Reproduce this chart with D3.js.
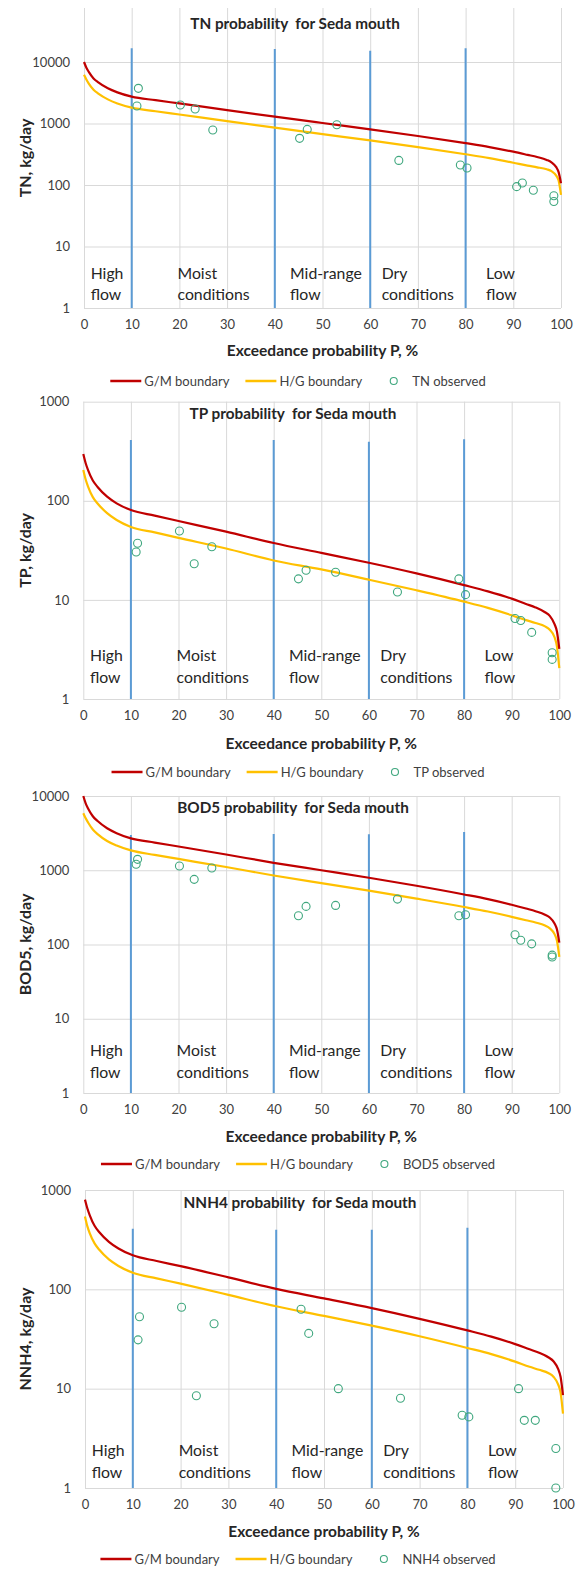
<!DOCTYPE html>
<html><head><meta charset="utf-8">
<script src="https://cdn.jsdelivr.net/npm/d3@7"></script>
<style>
body{margin:0;background:#fff}
svg{display:block}
text{font-family:Lato,"Open Sans",sans-serif}
</style>
</head><body>
<svg id="chart" width="582" height="1571"></svg>
<script>
// ---------- DATA ----------
const curveP = [0, 0.5, 1, 2, 3, 5, 7, 10, 15, 20, 30, 40, 50, 60, 70, 80, 85, 90, 93, 95, 97, 98, 99, 99.5, 100];

const tnGM  = [10000, 8090, 6900, 5410, 4656, 3733, 3206, 2729, 2395, 2118, 1652, 1294, 1019, 804, 627, 479, 414, 348, 309, 285, 256, 234, 195, 162, 107];
const tnHG  = [6200, 5200, 4450, 3540, 3060, 2466, 2118, 1815, 1582, 1399, 1091, 855, 673, 531, 414, 316, 273, 230, 206, 194, 180, 168, 142, 118, 69];
const tpGM  = [296, 239, 204, 160, 138, 110, 94.3, 80.7, 70.8, 62.5, 48.8, 37.5, 29.8, 23.7, 18.5, 14.1, 12.2, 10.3, 9.1, 8.4, 7.5, 6.9, 5.7, 4.8, 3.2];
const tpHG  = [205, 164, 139, 109, 94, 75, 64, 54.5, 48, 42.3, 33, 25, 20.3, 16, 12.5, 9.6, 8.3, 7.0, 6.25, 5.85, 5.4, 5.0, 4.2, 3.4, 2.05];
const bodGM = [10000, 7960, 6800, 5340, 4600, 3680, 3160, 2690, 2360, 2090, 1630, 1260, 1000, 793, 618, 472, 408, 343, 305, 281, 252, 231, 192, 160, 106];
const bodHG = [5850, 5000, 4400, 3540, 3070, 2480, 2150, 1850, 1610, 1420, 1105, 850, 670, 532, 415, 320, 278, 236, 212, 198, 180, 165, 138, 113, 68];
const nhGM  = [800, 651, 556, 436, 376, 301, 258, 220, 193, 171, 132, 101, 81, 64.7, 50.5, 38.6, 33.4, 28.1, 24.9, 23, 20.6, 18.9, 15.7, 13.1, 8.6];
const nhHG  = [540, 430, 365, 290, 250, 200, 172, 147, 129, 114, 88, 67.5, 54, 43.1, 33.7, 25.7, 22.3, 18.7, 16.6, 15.5, 14.3, 13.2, 11, 9.1, 5.6];

const obsP   = [11.4, 11.1, 20.2, 23.3, 27.0, 45.2, 46.8, 53.0, 66.0, 78.9, 80.3, 90.7, 91.9, 94.2, 98.5, 98.5];
const tnObs  = [3730, 1930, 2000, 1720, 784, 574, 802, 955, 251, 211, 189, 94, 108, 82, 67, 54];
const tpObs  = [37.3, 30.4, 49.6, 23.2, 34.4, 16.3, 19.9, 19.0, 12.0, 16.3, 11.3, 6.5, 6.2, 4.7, 2.93, 2.51];
const bodObs = [1403, 1202, 1140, 754, 1072, 244, 326, 336, 409, 244, 251, 135, 114, 102, 72, 68];
const nhObs  = [53, 31, 66, 8.5, 45, 63, 36, 10, 8, 5.4, 5.2, 10, 4.8, 4.8, 2.5, 1.0];

const zoneP = [10, 40, 60, 80];
const tnZoneTop  = [16700, 16200, 15300, 16700];
const tpZoneTop  = [410, 410, 395, 417];
const bodZoneTop = [2980, 3075, 3050, 3270];
const nhZoneTop  = [407, 398, 398, 417];

const xTicks = [0, 10, 20, 30, 40, 50, 60, 70, 80, 90, 100];
const yTicks4 = [1, 10, 100, 1000, 10000];
const yTicks3 = [1, 10, 100, 1000];

const zoneNames = [["High", "flow"], ["Moist", "conditions"], ["Mid-range", "flow"], ["Dry", "conditions"], ["Low", "flow"]];
const titles = ["TN probability  for Seda mouth", "TP probability  for Seda mouth", "BOD5 probability  for Seda mouth", "NNH4 probability  for Seda mouth"];
const yTitles = ["TN, kg/day", "TP, kg/day", "BOD5, kg/day", "NNH4, kg/day"];
const obsNames = ["TN observed", "TP observed", "BOD5 observed", "NNH4 observed"];
const boundaryNames = ["G/M boundary", "H/G boundary"];
const xTitle = "Exceedance probability P, %";

// ---------- LAYOUT ----------
const zoneLabelP = [1.4, 19.6, 43.2, 62.4, 84.3];
const layouts = [
  {x0: 84,   x1: 561,   yTop: 62,    yBot: 308,   gridTop: 8,     titleX: 295, titleY: 28.5,  zoneDy: [-35, -14], axTitleY: 355.5, legendY: 381},
  {x0: 83.3, x1: 559.3, yTop: 401.7, yBot: 699,   gridTop: 401.7, titleX: 293, titleY: 418.5, zoneDy: [-44, -22], axTitleY: 748.5, legendY: 772},
  {x0: 83.3, x1: 559.3, yTop: 796,   yBot: 1093,  gridTop: 796,   titleX: 293, titleY: 813,   zoneDy: [-43, -21], axTitleY: 1141.5, legendY: 1164},
  {x0: 85,   x1: 563,   yTop: 1190,  yBot: 1488,  gridTop: 1190,  titleX: 300, titleY: 1207.5, zoneDy: [-38, -16], axTitleY: 1536.5, legendY: 1559}
];

const panels = [
  {gm: tnGM,  hg: tnHG,  obs: tnObs,  zoneTop: tnZoneTop,  yTicks: yTicks4},
  {gm: tpGM,  hg: tpHG,  obs: tpObs,  zoneTop: tpZoneTop,  yTicks: yTicks3},
  {gm: bodGM, hg: bodHG, obs: bodObs, zoneTop: bodZoneTop, yTicks: yTicks4},
  {gm: nhGM,  hg: nhHG,  obs: nhObs,  zoneTop: nhZoneTop,  yTicks: yTicks3}
];

const C = {red: "#C00000", gold: "#FFC000", blue: "#5B9BD5", green: "#3FA77E", grid: "#D9D9D9", tick: "#404040", text: "#262626"};

const svg = d3.select("#chart");

panels.forEach((p, i) => {
  const L = layouts[i];
  const g = svg.append("g");
  const x = d3.scaleLinear().domain([0, 100]).range([L.x0, L.x1]);
  const y = d3.scaleLog().domain([1, d3.max(p.yTicks)]).range([L.yBot, L.yTop]);

  // horizontal grid + y labels
  const ya = g.append("g").attr("transform", `translate(${L.x0},0)`)
    .call(d3.axisLeft(y).tickValues(p.yTicks).tickFormat(d3.format("d"))
      .tickSizeInner(-(L.x1 - L.x0)).tickSizeOuter(0).tickPadding(14));
  ya.select(".domain").remove();
  ya.selectAll("line").attr("stroke", C.grid);
  ya.selectAll("text").attr("fill", C.tick).style("font-size", "13px");

  // vertical grid + x labels
  const xa = g.append("g").attr("transform", `translate(0,${L.yBot})`)
    .call(d3.axisBottom(x).tickValues(xTicks).tickFormat(d3.format("d"))
      .tickSizeInner(-(L.yBot - L.gridTop)).tickSizeOuter(0).tickPadding(12));
  xa.select(".domain").remove();
  xa.selectAll("line").attr("stroke", C.grid);
  xa.selectAll("text").attr("fill", C.tick).style("font-size", "13px");

  // zone divider lines
  g.selectAll("line.zone").data(zoneP).join("line").attr("class", "zone")
    .attr("x1", d => x(d)).attr("x2", d => x(d))
    .attr("y1", (d, k) => y(p.zoneTop[k])).attr("y2", y(1))
    .attr("stroke", C.blue).attr("stroke-width", 2);

  // boundary curves
  const line = d3.line().x((d, k) => x(curveP[k])).y(d => y(d)).curve(d3.curveMonotoneX);
  g.append("path").datum(p.hg).attr("d", line).attr("fill", "none").attr("stroke", C.gold).attr("stroke-width", 2.2);
  g.append("path").datum(p.gm).attr("d", line).attr("fill", "none").attr("stroke", C.red).attr("stroke-width", 2.2);

  // observations
  g.selectAll("circle.obs").data(p.obs).join("circle").attr("class", "obs")
    .attr("cx", (d, k) => x(obsP[k])).attr("cy", d => y(d)).attr("r", 4)
    .attr("fill", "none").attr("stroke", C.green).attr("stroke-width", 1.1);

  // zone labels
  zoneNames.forEach((nm, k) => {
    nm.forEach((t, j) => {
      g.append("text").attr("x", x(zoneLabelP[k])).attr("y", L.yBot + L.zoneDy[j] + 5.5)
        .attr("fill", C.text).style("font-size", "15.8px").text(t);
    });
  });

  // title
  g.append("text").attr("x", L.titleX).attr("y", L.titleY).attr("text-anchor", "middle")
    .attr("fill", C.text).style("font-size", "15.3px").style("font-weight", "bold")
    .style("white-space", "pre").text(titles[i]);

  // y title
  g.append("text").attr("transform", `translate(31,${(L.gridTop + L.yBot) / 2}) rotate(-90)`)
    .attr("text-anchor", "middle").attr("fill", C.text)
    .style("font-size", "16px").style("font-weight", "bold").text(yTitles[i]);

  // x title
  g.append("text").attr("x", (L.x0 + L.x1) / 2).attr("y", L.axTitleY).attr("text-anchor", "middle")
    .attr("fill", C.text).style("font-size", "15.5px").style("font-weight", "bold").text(xTitle);

  // legend
  const items = [
    {name: boundaryNames[0], type: "line", color: C.red},
    {name: boundaryNames[1], type: "line", color: C.gold},
    {name: obsNames[i], type: "circle", color: C.green}
  ];
  const lg = g.append("g");
  let cx = 0;
  items.forEach(it => {
    if (it.type === "line") {
      lg.append("line").attr("x1", cx).attr("x2", cx + 31).attr("y1", L.legendY).attr("y2", L.legendY)
        .attr("stroke", it.color).attr("stroke-width", 2.5);
    } else {
      lg.append("circle").attr("cx", cx + 15.5).attr("cy", L.legendY).attr("r", 3.5)
        .attr("fill", "none").attr("stroke", it.color).attr("stroke-width", 1.1);
    }
    const t = lg.append("text").attr("x", cx + 34).attr("y", L.legendY + 4.5)
      .attr("fill", C.tick).style("font-size", "13px").text(it.name);
    cx += 34 + t.node().getComputedTextLength() + 16;
  });
  const total = cx - 16;
  lg.attr("transform", `translate(${298 - total / 2},0)`);
});
</script>
</body></html>
